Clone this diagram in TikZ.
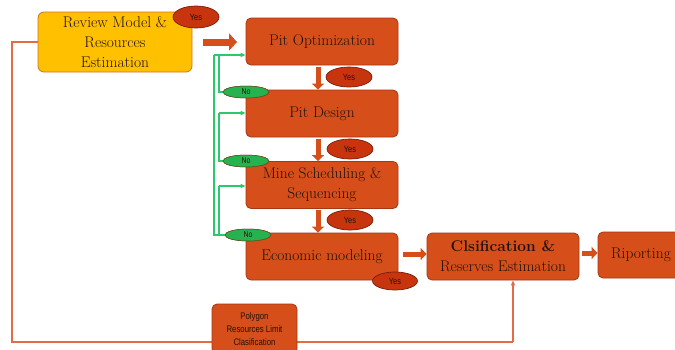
\documentclass[tikz,border=0pt]{standalone}
\usepackage{fontspec}
\newfontfamily\lab[FakeStretch=0.82]{Liberation Sans}
\usetikzlibrary{shapes.geometric,arrows.meta}
\definecolor{boxor}{RGB}{214,78,26}
\definecolor{boxedge}{RGB}{165,55,20}
\definecolor{goldf}{RGB}{255,192,0}
\definecolor{golde}{RGB}{205,115,40}
\definecolor{yesf}{RGB}{200,52,14}
\definecolor{yese}{RGB}{120,30,10}
\definecolor{nof}{RGB}{38,178,78}
\definecolor{noe}{RGB}{110,70,30}
\definecolor{gline}{RGB}{45,200,110}
\definecolor{oline}{RGB}{228,108,68}
\definecolor{txt}{RGB}{35,18,10}
\begin{document}
\begin{tikzpicture}[x=1pt,y=-1pt,
  obox/.style={draw=boxedge,fill=boxor,rounded corners=5pt,line width=0.8pt,
    minimum width=152pt,minimum height=47pt,align=center,text=txt,
    font=\fontsize{15.5}{20}\selectfont,inner sep=2pt},
  yesel/.style={ellipse,draw=yese,fill=yesf,line width=0.7pt,minimum width=46pt,
    minimum height=20pt,inner sep=0pt,font=\lab\fontsize{9}{10}\selectfont,text=txt},
  noel/.style={ellipse,draw=noe,fill=nof,line width=0.5pt,minimum width=46pt,
    minimum height=12pt,inner sep=0pt,font=\lab\fontsize{8.5}{9}\selectfont,text=txt},
  gpath/.style={draw=gline,line width=1.1pt,-{Triangle[length=5pt,width=4pt]}},
  gline/.style={draw=gline,line width=1.1pt},
  blockar/.style={draw=boxor,line width=7pt,-{Triangle[length=8pt,width=17pt]}},
  smallar/.style={draw=boxor,line width=5pt,-{Triangle[length=6pt,width=12pt]}},
  opath/.style={draw=oline,line width=1.3pt}]
\clip (0,0) rectangle (675,349);
\fill[white] (0,0) rectangle (675,349);

% boxes
\node[obox] (popt) at (322,41.5) {Pit Optimization};
\node[obox] (pdes) at (322,113.5) {Pit Design};
\node[obox] (mine) at (322,185) {Mine Scheduling \&\\Sequencing};
\node[obox] (econ) at (322,256.5) {Economic modeling};
\node[obox] (clas) at (503,256.5) {\textbf{Clsification \&}\\Reserves Estimation};
\node[obox,minimum width=86pt,minimum height=46pt] (ripo) at (641,255) {Riporting};
\node[draw=golde,fill=goldf,rounded corners=6pt,line width=0.8pt,minimum width=154pt,
  minimum height=60pt,align=center,text=txt,font=\fontsize{15.5}{20}\selectfont,inner sep=2pt]
  (rev) at (115,42) {Review Model \&\\Resources\\Estimation};

% orange feedback line
\coordinate (ol) at (12,342);
\coordinate (or) at (513,342);
\draw[opath] (rev.west) -| (ol) -- (or);
\draw[opath,-{Triangle[length=5pt,width=4pt]}] (or) -- (or |- clas.south);
\node[draw=boxedge,fill=boxor,rounded corners=5pt,line width=0.8pt,minimum width=85pt,
  minimum height=50pt,align=center,text=txt,font=\lab\fontsize{9.5}{13}\selectfont,inner sep=1pt]
  (poly) at (254.5,329) {Polygon\\Resources Limit\\Clasification};

% green No loops
\node[noel] (no1) at (246,92) {No};
\node[noel] (no2) at (246,161) {No};
\node[noel] (no3) at (248,235) {No};
\coordinate (ga) at (214,235);
\coordinate (gb) at (214,55);
\coordinate (gc) at (219,92);
\coordinate (gd) at (219,55);
\coordinate (ge) at (219,161);
\coordinate (gf) at (219,113);
\coordinate (gg) at (219,235);
\coordinate (gh) at (219,186);
\draw[gline] (no3.west) -- (ga) -- (gb);
\draw[gpath] (gb) -- (gb -| popt.west);
\draw[gline] (no1.west) -- (gc) -- (gd);
\draw[gline] (no2.west) -- (ge) -- (gf);
\draw[gpath] (gf) -- (gf -| pdes.west);
\draw[gline] (gg) -- (gh);
\draw[gpath] (gh) -- (gh -| mine.west);
% redraw No ellipses on top
\node[noel] at (no1) {No};
\node[noel] at (no2) {No};
\node[noel] at (no3) {No};

% block arrows
\coordinate (ra) at (203,42);
\coordinate (rb) at (237,42);
\draw[blockar] (ra) -- (rb);
\coordinate (d1) at (318,67);
\coordinate (d2) at (318,139);
\coordinate (d3) at (318,210);
\draw[smallar] (d1) -- (d1 |- pdes.north);
\draw[smallar] (d2) -- (d2 |- mine.north);
\draw[smallar] (d3) -- (d3 |- econ.north);
\coordinate (e1) at (403,254);
\draw[smallar] (e1) -- (e1 -| clas.west);
\coordinate (e2) at (582,253);
\draw[smallar] (e2) -- (e2 -| ripo.west);

% Yes labels
\node[yesel,minimum height=22pt] (y0) at (196,17) {Yes};
\node[yesel] (y1) at (349,77) {Yes};
\node[yesel] (y2) at (350,149) {Yes};
\node[yesel] (y3) at (350,220) {Yes};
\node[yesel,minimum width=45pt,minimum height=18pt] (y4) at (395,281) {Yes};
\end{tikzpicture}
\end{document}
